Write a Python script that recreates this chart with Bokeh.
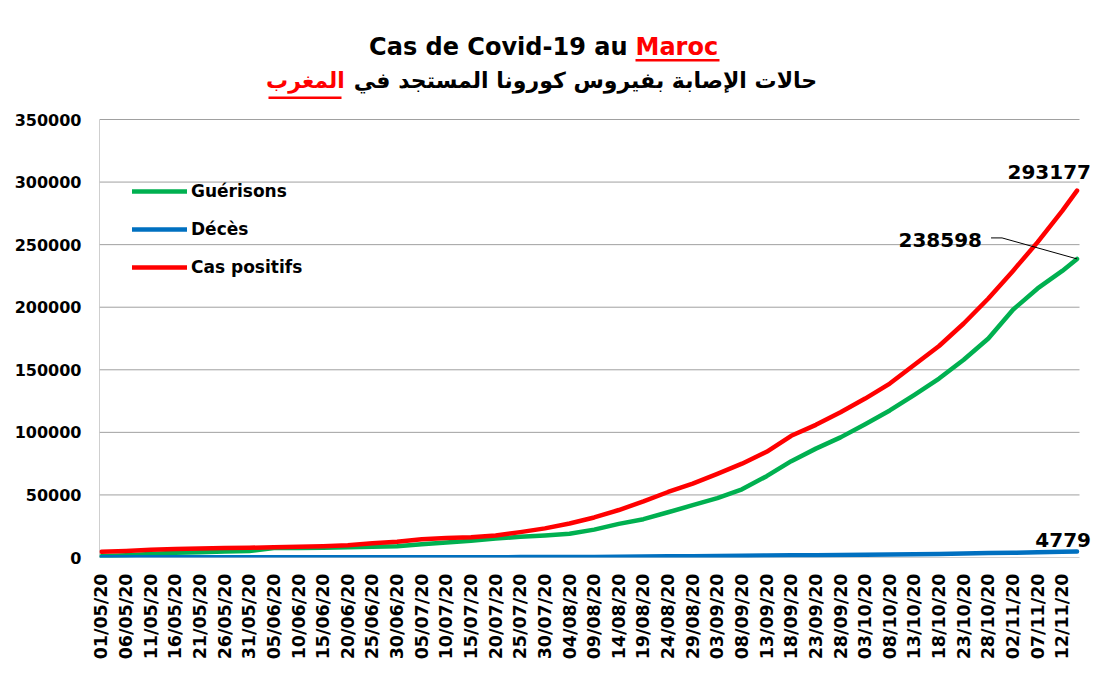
import math
import pandas as pd
from bokeh.plotting import figure
from bokeh.models import (Range1d, FixedTicker, Legend, LegendItem, Label,
                          BoxAnnotation)
from bokeh.embed import file_html
from bokeh.resources import INLINE

# ---------------- data ----------------
dates = ["01/05/20", "06/05/20", "11/05/20", "16/05/20", "21/05/20", "26/05/20",
         "31/05/20", "05/06/20", "10/06/20", "15/06/20", "20/06/20", "25/06/20",
         "30/06/20", "05/07/20", "10/07/20", "15/07/20", "20/07/20", "25/07/20",
         "30/07/20", "04/08/20", "09/08/20", "14/08/20", "19/08/20", "24/08/20",
         "29/08/20", "03/09/20", "08/09/20", "13/09/20", "18/09/20", "23/09/20",
         "28/09/20", "03/10/20", "08/10/20", "13/10/20", "18/10/20", "23/10/20",
         "28/10/20", "02/11/20", "07/11/20", "12/11/20", "15/11/20"]

cas_positifs = [4569, 5219, 6281, 6870, 7211, 7577, 7807, 8224, 8537, 8997,
                9839, 11338, 12533, 14607, 15542, 16262, 17562, 20278, 23259, 27217,
                32007, 37935, 44803, 52349, 59039, 66855, 74960, 84435, 97264, 106000,
                116000, 127000, 139000, 154000, 169000, 187000, 207000, 229000, 252000,
                277000, 293177]

guerisons = [1083, 1838, 2811, 3758, 4280, 4881, 5271, 7493, 7553, 7780,
             8223, 8656, 8920, 10645, 12080, 13428, 15132, 16553, 17658, 18968,
             22282, 26876, 30627, 36163, 41786, 47500, 54500, 65000, 77000, 87000,
             96000, 106500, 117500, 130000, 143000, 158000, 175000, 198000, 215000,
             229000, 238598]

deces = [171, 181, 188, 192, 196, 202, 205, 208, 211, 213,
         213, 218, 228, 240, 250, 260, 276, 305, 353, 417,
         480, 654, 814, 967, 1079, 1229, 1361, 1553, 1755, 1889,
         2041, 2229, 2421, 2653, 2877, 3132, 3506, 3803, 4194, 4569, 4779]

x_tick_labels = dates[:40]
y_ticks = [0, 50000, 100000, 150000, 200000, 250000, 300000, 350000]
y_tick_labels = ["0", "50000", "100000", "150000", "200000", "250000", "300000", "350000"]

series_names = ["Guérisons", "Décès", "Cas positifs"]
series_colors = ["#00b050", "#0070c0", "#ff0000"]

# day offsets from the first date
start = pd.to_datetime(dates[0], format="%d/%m/%y")
days = [(pd.to_datetime(d, format="%d/%m/%y") - start).days for d in dates]

# ---------------- geometry ----------------
W, H = 1092, 681
X0, X1 = -0.4, 198.5            # data extent of the plotting area
dpp = (X1 - X0) / 980.0          # days per pixel
vpp = 350000 / 438.0             # value per pixel
x_end = X0 + (W - 99) * dpp      # frame extends to right canvas edge
y_end = 557 * vpp                # frame extends to top canvas edge


def px_to_x(px):
    return X0 + (px - 100) * dpp


def py_to_y(py):
    return (558 - py) * vpp


p = figure(width=W, height=H, output_backend="svg", toolbar_location=None,
           x_range=Range1d(X0, x_end), y_range=Range1d(0, y_end),
           min_border_left=99, min_border_right=0, min_border_top=0,
           min_border_bottom=124)
p.background_fill_color = "white"
p.border_fill_color = "white"
p.outline_line_color = None
p.xgrid.grid_line_color = None
p.ygrid.grid_line_color = None

# gridlines and axis lines of the plotting area
grid_col = "#a0a0a0"
p.segment(x0=[X0] * (len(y_ticks) - 1), x1=[X1] * (len(y_ticks) - 1),
          y0=y_ticks[1:], y1=y_ticks[1:], line_color=grid_col, line_width=1)
p.segment(x0=[X0, X0], x1=[X0, X1], y0=[0, 0], y1=[y_ticks[-1], 0],
          line_color=grid_col, line_width=1)

# y axis
ya = p.yaxis[0]
ya.ticker = FixedTicker(ticks=y_ticks)
ya.major_label_overrides = {t: l for t, l in zip(y_ticks, y_tick_labels)}
ya.axis_line_color = None
ya.major_tick_line_color = None
ya.minor_tick_line_color = None
ya.major_tick_out = 0
ya.major_tick_in = 0
ya.major_label_standoff = 18
ya.major_label_text_font = "DejaVu Sans"
ya.major_label_text_font_style = "bold"
ya.major_label_text_font_size = "16px"
ya.major_label_text_color = "#000000"

# x axis
xa = p.xaxis[0]
xa.ticker = FixedTicker(ticks=days[:40])
xa.major_label_overrides = {d: l for d, l in zip(days[:40], x_tick_labels)}
xa.major_label_orientation = math.pi / 2
xa.axis_line_color = None
xa.major_tick_line_color = None
xa.minor_tick_line_color = None
xa.major_tick_out = 0
xa.major_tick_in = 0
xa.major_label_standoff = 16
xa.major_label_text_font = "DejaVu Sans"
xa.major_label_text_font_style = "bold"
xa.major_label_text_font_size = "17.5px"
xa.major_label_text_color = "#000000"

# ---------------- lines ----------------
r_g = p.line(days, guerisons, line_color=series_colors[0], line_width=4.5,
             line_join="round", line_cap="round")
r_d = p.line(days, deces, line_color=series_colors[1], line_width=4.5,
             line_join="round", line_cap="round")
r_c = p.line(days, cas_positifs, line_color=series_colors[2], line_width=4.5,
             line_join="round", line_cap="round")

legend = Legend(items=[LegendItem(label=series_names[0], renderers=[r_g]),
                       LegendItem(label=series_names[1], renderers=[r_d]),
                       LegendItem(label=series_names[2], renderers=[r_c])],
                location=(33, 280), padding=0, margin=0, spacing=18,
                glyph_width=55, glyph_height=20, label_height=20,
                label_standoff=4, border_line_color=None,
                background_fill_alpha=0)
legend.label_text_font = "DejaVu Sans"
legend.label_text_font_style = "bold"
legend.label_text_font_size = "17px"
legend.label_text_color = "#000000"
p.add_layout(legend, "center")

# ---------------- value labels ----------------
lab_font = dict(text_font="DejaVu Sans", text_font_style="bold",
                text_font_size="20px", text_color="#000000")
p.add_layout(Label(x=days[-1], y=cas_positifs[-1], text=str(cas_positifs[-1]),
                   x_offset=14, y_offset=19, text_align="right",
                   text_baseline="middle", **lab_font))
p.add_layout(Label(x=days[-1], y=guerisons[-1], text=str(guerisons[-1]),
                   x_offset=-95, y_offset=19, text_align="right",
                   text_baseline="middle", **lab_font))
p.add_layout(Label(x=days[-1], y=deces[-1], text=str(deces[-1]),
                   x_offset=14, y_offset=12, text_align="right",
                   text_baseline="middle", **lab_font))

# leader line for the recoveries label
lead_x = [days[-1] - 86 * dpp, days[-1] - 75 * dpp, days[-1]]
lead_y = [guerisons[-1] + 21 * vpp, guerisons[-1] + 21 * vpp, guerisons[-1]]
p.line(lead_x, lead_y, line_color="#000000", line_width=1)

# ---------------- titles ----------------
p.add_layout(Label(x=px_to_x(628), y=py_to_y(47), text="Cas de Covid-19 au",
                   text_align="right", text_baseline="middle",
                   text_font="DejaVu Sans", text_font_style="bold",
                   text_font_size="24px", text_color="#000000"))
p.add_layout(Label(x=px_to_x(636), y=py_to_y(47), text="Maroc",
                   text_align="left", text_baseline="middle",
                   text_font="DejaVu Sans", text_font_style="bold",
                   text_font_size="24px", text_color="#ff0000"))
p.add_layout(BoxAnnotation(left=px_to_x(636), right=px_to_x(720),
                           top=py_to_y(59.5), bottom=py_to_y(62),
                           fill_color="#ff0000", fill_alpha=1, line_color=None))

p.add_layout(Label(x=px_to_x(586), y=py_to_y(81),
                   text="حالات الإصابة بفيروس كورونا المستجد في",
                   text_align="center", text_baseline="middle",
                   text_font="DejaVu Sans", text_font_style="bold",
                   text_font_size="22px", text_color="#000000"))
p.add_layout(Label(x=px_to_x(306), y=py_to_y(81), text="المغرب",
                   text_align="center", text_baseline="middle",
                   text_font="DejaVu Sans", text_font_style="bold",
                   text_font_size="22px", text_color="#ff0000"))
p.add_layout(BoxAnnotation(left=px_to_x(269), right=px_to_x(342),
                           top=py_to_y(97), bottom=py_to_y(99.5),
                           fill_color="#ff0000", fill_alpha=1, line_color=None))

open("out.html", "w").write(file_html(p, INLINE))
